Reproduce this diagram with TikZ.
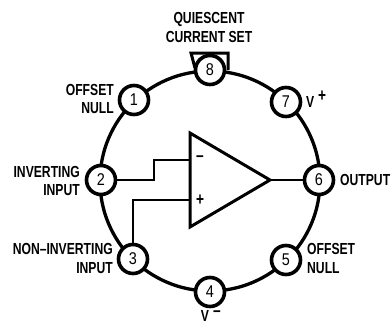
\documentclass[tikz,border=0pt]{standalone}
\usepackage{fontspec}
\setmainfont[FakeStretch=0.76]{Liberation Sans}
\newfontfamily\pinfont[FakeStretch=0.85]{Liberation Sans}
\begin{document}
\begin{tikzpicture}[x=1pt,y=-1pt,
  wire/.style={line width=3.3pt,line join=miter},
  ampwire/.style={line width=2.6pt,line join=miter},
  pin/.style={circle,draw,line width=3.6pt,fill=white,minimum size=29pt,inner sep=0pt,font=\pinfont\fontsize{17}{17}\selectfont},
  lab/.style={inner sep=0pt,font=\fontsize{16}{18.5}\selectfont\bfseries},
  sym/.style={inner sep=0pt,font=\fontsize{18}{18}\selectfont\bfseries}]
\useasboundingbox (0,0) rectangle (391,324);
\coordinate (cc) at (210,181);
\draw[wire] (cc) circle [radius=110];
\coordinate (sa) at (195,68);
\coordinate (sb) at (191,53);
\coordinate (sc) at (228,53);
\coordinate (sd) at (228,70);
\draw[line width=3pt,line join=miter] (sa) -- (sb) -- (sc) -- (sd);
\coordinate (ta) at (190,133);
\coordinate (tb) at (190,227);
\coordinate (tc) at (270,180);
\coordinate (j2) at (154,180);
\coordinate (j2b) at (154,160);
\coordinate (m) at (190,160);
\coordinate (j3) at (133,200);
\coordinate (p) at (190,200);
\node[pin] (n8) at (210,70) {8};
\node[pin] (n7) at (286,102) {7};
\node[pin] (n6) at (319,180) {6};
\node[pin] (n5) at (286,260) {5};
\node[pin] (n4) at (210,292) {4};
\node[pin] (n3) at (133,259) {3};
\node[pin] (n2) at (101,180) {2};
\node[pin] (n1) at (134,100) {1};
\draw[ampwire] (n2) -- (j2) -- (j2b) -- (m);
\draw[ampwire] (n3) -- (j3) -- (p);
\draw[ampwire] (tc) -- (n6);
\draw[line width=3pt,line join=miter] (ta) -- (tb) -- (tc) -- cycle;
\node[sym] (minus) at (200,159) {–};
\node[sym] (plus) at (200,200) {+};
\node[lab,align=center] (q) at (209,27.5) {QUIESCENT\\CURRENT SET};
\node[lab,align=right,anchor=east] (l1) at (114,99) {OFFSET\\NULL};
\node[lab,align=right,anchor=east] (l2) at (80,181) {INVERTING\\INPUT};
\node[lab,align=right,anchor=east] (l3) at (113,258.5) {NON–INVERTING\\INPUT};
\node[lab,align=left,anchor=west] (l5) at (307,258.5) {OFFSET\\NULL};
\node[lab,anchor=west] (l6) at (340,180) {OUTPUT};
\node[lab,anchor=west] (l7) at (306,102) {V};
\node[sym] (l7p) at (322,96) {+};
\node[lab] (l4) at (205,316) {V};
\node[sym] (l4m) at (217,314) {–};
\end{tikzpicture}
\end{document}
